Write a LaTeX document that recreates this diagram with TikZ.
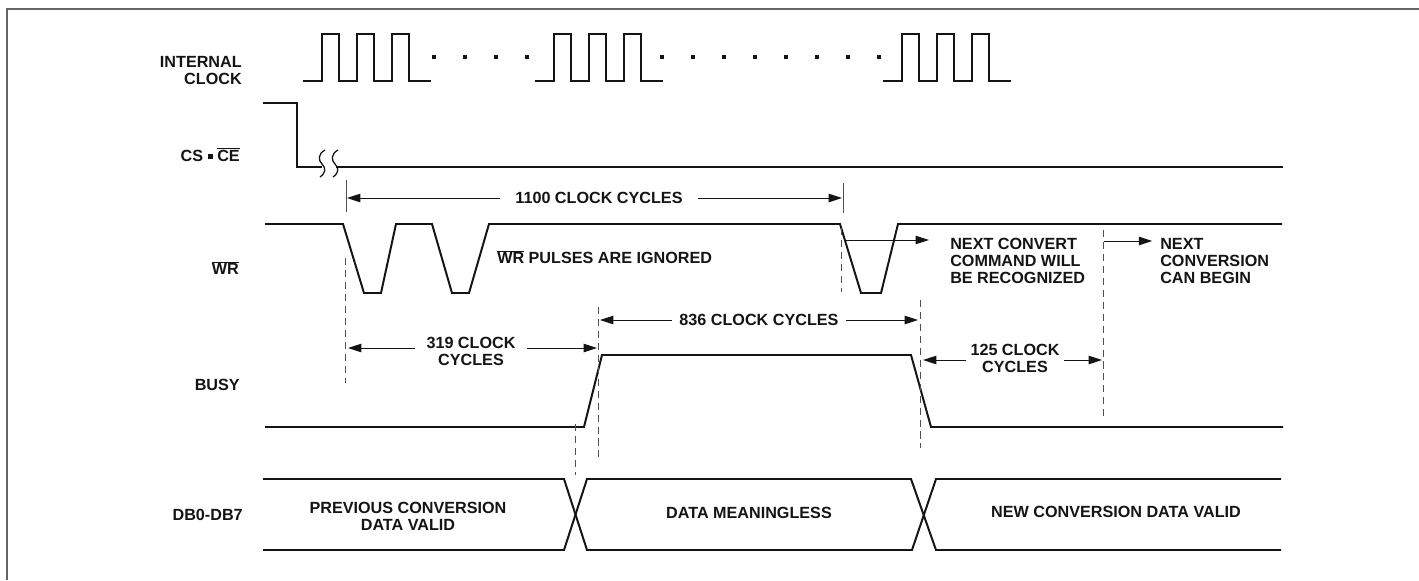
\documentclass[tikz,border=0pt]{standalone}
\usepackage{fontspec}
\setmainfont{Liberation Sans}
\usepackage{tikz}
\usetikzlibrary{arrows.meta,positioning}
\definecolor{tdBlack}{RGB}{20,20,20}
\definecolor{tdGray}{RGB}{80,80,80}
\definecolor{tdFrame}{RGB}{100,100,100}
\newcommand{\ovl}[1]{$\overline{\mbox{#1}}$}

\begin{document}
\begin{tikzpicture}[x=0.025cm,y=-0.025cm,
    lbl/.style={font=\fontsize{11.5}{12.1}\selectfont\bfseries, text=tdBlack, inner sep=0pt},
    sig/.style={tdBlack, line width=1.4pt, line join=miter},
    clk/.style={tdBlack, line width=1.1pt},
    guide/.style={tdGray, line width=0.65pt, dash pattern=on 5pt off 3.5pt},
    tick/.style={tdGray, line width=0.65pt},
    dimarr/.style={tdBlack, line width=0.7pt, -{Triangle[length=9.5pt,width=6pt]}}]
    \useasboundingbox (0,0) rectangle (1419,580);

    % frame
    \draw[tdFrame, line width=1.4pt] (7,580) |- (1419,9);

    % signal names
    \node[lbl, anchor=east, align=right] (lclk) at (242,71) {INTERNAL\\CLOCK};
    \node[lbl, anchor=east] (lcs) at (240,155) {CS \rule[0.3ex]{0.6ex}{0.6ex} \ovl{CE}};
    \node[lbl, anchor=east] (lwr) at (239,268) {\ovl{WR}};
    \node[lbl, anchor=east] (lbusy) at (240,385) {BUSY};
    \node[lbl, anchor=east] (ldb) at (243,515) {DB0-DB7};

    % internal clock
    \foreach \s in {303,535,883}
        \draw[clk] (\s,81) -- ++(19,0)
            -- ++(0,-47) -- ++(17,0) -- ++(0,47) -- ++(18,0)
            -- ++(0,-47) -- ++(17,0) -- ++(0,47) -- ++(18,0)
            -- ++(0,-47) -- ++(17,0) -- ++(0,47) -- ++(22,0);
    \foreach \d in {434,465,496,527}
        \fill[tdBlack] (\d-2,55) rectangle ++(4,4);
    \foreach \i in {0,...,7}
        \fill[tdBlack] ({662+31*\i-2},55) rectangle ++(4,4);

    % CS . CE with break
    \draw[sig, line width=1.8pt] (263,103) -- (297,103) -- (297,167) -- (322,167);
    \draw[sig, line width=1.8pt] (336,167) -- (1283,167);
    \foreach \c in {322,335}
        \draw[tdBlack, line width=0.9pt] (\c+3,150)
            .. controls (\c-4,154) and (\c-4,160) .. (\c,164)
            .. controls (\c+4,168) and (\c+4,173) .. (\c-2,177);

    % WR
    \draw[sig] (265,224) -- (343,224) -- (364,293) -- (381,293) -- (396,224)
        -- (432,224) -- (452,293) -- (469,293) -- (489,224)
        -- (840,224) -- (861,293) -- (881,293) -- (898,224) -- (1282,224);

    % BUSY
    \draw[sig] (265,427) -- (584,427) -- (602,355) -- (911,355) -- (931,427) -- (1283,427);

    % data bus
    \draw[sig] (263,479) -- (564,479) -- (587,550) -- (912,550) -- (936,479) -- (1281,479);
    \draw[sig] (263,550) -- (564,550) -- (587,479) -- (911,479) -- (936,550) -- (1281,550);

    % guide lines
    \draw[tick] (346,180) -- (346,212);
    \draw[tick] (843,183) -- (843,213);
    \draw[guide] (345,258) -- (345,383);
    \draw[guide] (841,228) -- (841,292);
    \draw[guide] (598,307) -- (598,462);
    \draw[guide] (575,424) -- (575,475);
    \draw[guide] (920,300) -- (920,448);
    \draw[guide] (1103,230) -- (1103,418);

    % arrow ends
    \coordinate (a1100l) at (347,198);
    \coordinate (a1100r) at (842,198);
    \coordinate (a319l) at (348,348);
    \coordinate (a319r) at (597,348);
    \coordinate (a836l) at (600,320);
    \coordinate (a836r) at (918,320);
    \coordinate (a125l) at (923,360);
    \coordinate (a125r) at (1102,360);

    % cycle counts
    \node[lbl, inner xsep=11pt] (t1100) at (599,198) {1100 CLOCK CYCLES};
    \node[lbl, inner xsep=8pt, align=center] (t319) at (471,351) {319 CLOCK\\CYCLES};
    \node[lbl, inner xsep=5pt] (t836) at (759,320) {836 CLOCK CYCLES};
    \node[lbl, inner xsep=3pt, align=center] (t125) at (1015,358) {125 CLOCK\\CYCLES};
    \draw[dimarr] (t1100.west) -- (a1100l);
    \draw[dimarr] (t1100.east) -- (a1100r);
    \draw[dimarr] (t319.west |- a319l) -- (a319l);
    \draw[dimarr] (t319.east |- a319r) -- (a319r);
    \draw[dimarr] (t836.west) -- (a836l);
    \draw[dimarr] (t836.east) -- (a836r);
    \draw[dimarr] (t125.west |- a125l) -- (a125l);
    \draw[dimarr] (t125.east |- a125r) -- (a125r);

    % notes
    \node[lbl, anchor=west] (tign) at (497,257) {\ovl{WR} PULSES ARE IGNORED};
    \node[lbl, anchor=west, align=left] (tnext) at (950,261) {NEXT CONVERT\\COMMAND WILL\\BE RECOGNIZED};
    \node[lbl, anchor=west, align=left] (tbegin) at (1160,261) {NEXT\\CONVERSION\\CAN BEGIN};
    \coordinate (snext) at (845,240);
    \coordinate (sbegin) at (1104,241);
    \draw[dimarr] (snext) -- ([xshift=-15pt]tnext.west |- snext);
    \draw[dimarr] (sbegin) -- ([xshift=-5.5pt]tbegin.west |- sbegin);

    % bus contents
    \node[lbl, align=center] (dprev) at (408,516) {PREVIOUS CONVERSION\\DATA VALID};
    \node[lbl] (dmean) at (749,513) {DATA MEANINGLESS};
    \node[lbl] (dnew) at (1116,512) {NEW CONVERSION DATA VALID};
\end{tikzpicture}
\end{document}
